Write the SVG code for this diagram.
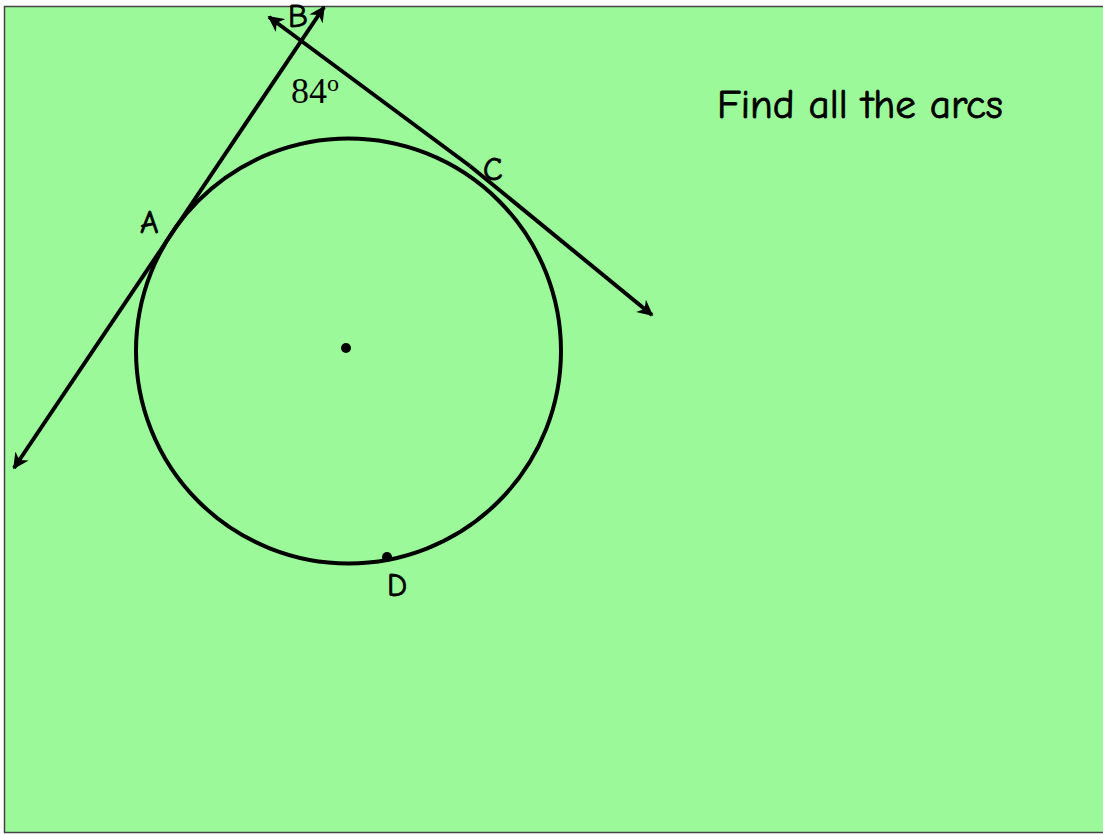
<svg xmlns="http://www.w3.org/2000/svg" width="1103" height="835" viewBox="0 0 1103 835">
<style>
.ln{stroke:#000;stroke-width:4;fill:none}
.lbl{font-family:"Comic Neue","DejaVu Sans","Liberation Sans",sans-serif;font-size:32px;fill:#000;stroke:#000;stroke-width:0.8}
</style>
<defs>
<marker id="ah" viewBox="0 0 10 10" refX="9" refY="5" markerWidth="4" markerHeight="4" orient="auto" markerUnits="strokeWidth">
<path d="M0,0 L10,5 L0,10 L3,5 Z" fill="#000"/>
</marker>
</defs>
<rect x="0" y="0" width="1103" height="835" fill="#fff"/>
<rect x="4.5" y="6.5" width="1100" height="826" fill="#9CF99A" stroke="#444" stroke-width="1.5"/>
<g id="connectors">
<line class="ln" x1="160" y1="251" x2="14" y2="468" marker-end="url(#ah)"/>
<line class="ln" x1="160" y1="251" x2="324" y2="7" marker-end="url(#ah)"/>
<line class="ln" x1="470" y1="166" x2="269" y2="17" marker-end="url(#ah)"/>
<line class="ln" x1="470" y1="166" x2="652" y2="315" marker-end="url(#ah)"/>
</g>
<g id="circle">
<circle cx="348.5" cy="351" r="212.5" class="ln"/>
<circle cx="346" cy="348" r="5" fill="#000"/>
</g>
<g id="pointD">
<circle cx="387" cy="557" r="5" fill="#000"/>
<text class="lbl" x="387" y="596">D</text>
</g>
<g id="labelA"><text class="lbl" x="140" y="233">A</text></g>
<g id="labelB"><text class="lbl" x="288" y="27">B</text></g>
<g id="labelC"><text class="lbl" x="483" y="180">C</text></g>
<g id="angle"><text x="291" y="103" font-family="Liberation Serif,serif" font-size="36px" fill="#000">84<tspan font-size="24px" dy="-12">o</tspan></text></g>
<g id="title"><text x="717" y="118" font-family="Comic Neue,DejaVu Sans,Liberation Sans,sans-serif" font-size="40px" textLength="286" lengthAdjust="spacingAndGlyphs" fill="#000" stroke="#000" stroke-width="0.8">Find all the arcs</text></g>
</svg>
